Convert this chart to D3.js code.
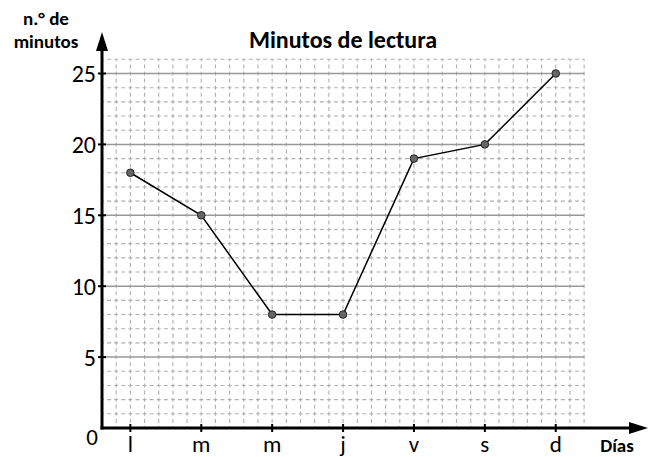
<!DOCTYPE html>
<html>
<head>
<meta charset="utf-8">
<script src="https://cdn.jsdelivr.net/npm/d3@7"></script>
<style>
body { margin:0; background:#fff; }
text { font-family: Carlito, Lato, "Open Sans", sans-serif; fill:#000; }
</style>
</head>
<body>
<svg id="chart"></svg>
<script>
var days = ["l","m","m","j","v","s","d"];
var minutes = [18,15,8,8,19,20,25];
var yTicks = [5,10,15,20,25];

var drawChart = function(target)
{
    var screen = {width:653, height:457};
    var origin = {x:102, y:428};
    var unit = 14.18;

    var svg = d3.select(target)
        .attr("width",screen.width)
        .attr("height",screen.height)

    // grid units: x 0..34, y 0..26
    var xUnit = d3.scaleLinear().domain([0,34]).range([origin.x, origin.x+34*unit])
    var yScale = d3.scaleLinear().domain([0,26]).range([origin.y, origin.y-26*unit])

    var xScale = function(i) { return xUnit(2+5*i) }

    var grid = svg.append("g")

    // vertical dashed lines
    d3.range(1,35).forEach(function(k)
    {
        grid.append("line")
            .attr("x1",xUnit(k)).attr("x2",xUnit(k))
            .attr("y1",yScale(0)).attr("y2",yScale(26))
            .attr("stroke","#b0b0b0")
            .attr("stroke-width",1.1)
            .attr("stroke-dasharray","4,3.09")
            .attr("stroke-dashoffset",2)
    })
    // horizontal lines
    d3.range(1,27).forEach(function(k)
    {
        var major = yTicks.indexOf(k) >= 0;
        grid.append("line")
            .attr("x1",xUnit(0)).attr("x2",xUnit(34))
            .attr("y1",yScale(k)).attr("y2",yScale(k))
            .attr("stroke", major ? "#999" : "#b0b0b0")
            .attr("stroke-width", major ? 1.5 : 1.1)
            .attr("stroke-dasharray", major ? null : "4,3.09")
            .attr("stroke-dashoffset",2)
    })

    // axes
    var axes = svg.append("g")
    axes.append("line")
        .attr("x1",origin.x).attr("x2",origin.x)
        .attr("y1",origin.y+1.5).attr("y2",48)
        .attr("stroke","#000").attr("stroke-width",3)
    axes.append("path")
        .attr("d","M"+origin.x+",32 L"+(origin.x-6)+",51 L"+(origin.x+6)+",51 Z")
        .attr("fill","#000")
    axes.append("line")
        .attr("x1",origin.x-1.5).attr("x2",632)
        .attr("y1",origin.y).attr("y2",origin.y)
        .attr("stroke","#000").attr("stroke-width",3)
    axes.append("path")
        .attr("d","M648,"+origin.y+" L629,"+(origin.y-6)+" L629,"+(origin.y+6)+" Z")
        .attr("fill","#000")

    // ticks
    yTicks.forEach(function(t)
    {
        axes.append("line")
            .attr("x1",origin.x-4).attr("x2",origin.x+4)
            .attr("y1",yScale(t)).attr("y2",yScale(t))
            .attr("stroke","#000").attr("stroke-width",2)
        axes.append("text")
            .text(t)
            .attr("x",origin.x-6)
            .attr("y",yScale(t))
            .attr("dy","0.36em")
            .attr("text-anchor","end")
            .style("font-size","24px")
    })
    days.forEach(function(d,i)
    {
        axes.append("line")
            .attr("x1",xScale(i)).attr("x2",xScale(i))
            .attr("y1",origin.y-4).attr("y2",origin.y+4)
            .attr("stroke","#000").attr("stroke-width",2)
        axes.append("text")
            .text(d)
            .attr("x",xScale(i))
            .attr("y",452)
            .attr("text-anchor","middle")
            .style("font-size","23px")
    })

    // labels
    svg.append("text").text("0")
        .attr("x",92).attr("y",445)
        .attr("text-anchor","middle")
        .style("font-size","23px")
    svg.append("text").text("Días")
        .attr("x",617).attr("y",452)
        .attr("text-anchor","middle")
        .style("font-size","19px").style("font-weight","bold")
    svg.append("text").text("n.° de")
        .attr("x",46).attr("y",25)
        .attr("text-anchor","middle")
        .style("font-size","19px").style("font-weight","bold")
    svg.append("text").text("minutos")
        .attr("x",46).attr("y",48)
        .attr("text-anchor","middle")
        .style("font-size","19px").style("font-weight","bold")
    svg.append("text").text("Minutos de lectura")
        .attr("x",343).attr("y",48)
        .attr("text-anchor","middle")
        .style("font-size","24px").style("font-weight","bold")

    // line
    var lineGenerator = d3.line()
        .x(function(d,i) { return xScale(i) })
        .y(function(d) { return yScale(d) })

    svg.append("path")
        .datum(minutes)
        .attr("d",lineGenerator)
        .attr("fill","none")
        .attr("stroke","#000")
        .attr("stroke-width",1.5)

    svg.selectAll(".pt")
        .data(minutes)
        .enter()
        .append("circle")
        .attr("cx",function(d,i) { return xScale(i) })
        .attr("cy",function(d) { return yScale(d) })
        .attr("r",3.8)
        .attr("fill","#666")
        .attr("stroke","#222")
        .attr("stroke-width",1)
}

drawChart("#chart");
</script>
</body>
</html>
